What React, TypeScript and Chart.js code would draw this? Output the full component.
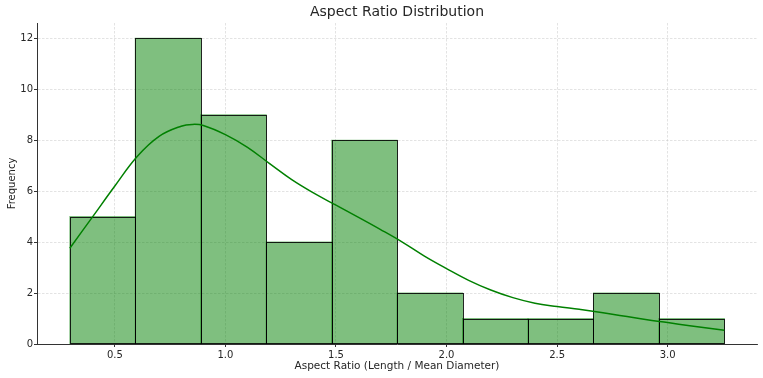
import React, { useEffect, useRef } from "react";
import { Chart, registerables } from "chart.js";

Chart.register(...registerables);

const TITLE = "Aspect Ratio Distribution";
const X_LABEL = "Aspect Ratio (Length / Mean Diameter)";
const Y_LABEL = "Frequency";

const binEdges = [0.2965, 0.5925, 0.8885, 1.1845, 1.4805, 1.7765, 2.0725, 2.3685, 2.6645, 2.9605, 3.2565];
const counts = [5, 12, 9, 4, 8, 2, 1, 1, 2, 1];

const kdeX = [0.2965, 0.40, 0.50, 0.60, 0.70, 0.80, 0.85, 0.90, 1.00, 1.10, 1.20, 1.30, 1.40, 1.50, 1.60, 1.70, 1.80, 1.90, 2.00, 2.10, 2.20, 2.30, 2.40, 2.50, 2.60, 2.70, 2.80, 2.90, 3.00, 3.10, 3.2565];
const kdeY = [3.76, 5.00, 6.20, 7.35, 8.15, 8.55, 8.62, 8.58, 8.22, 7.72, 7.08, 6.45, 5.92, 5.45, 4.98, 4.50, 4.00, 3.45, 2.96, 2.50, 2.12, 1.82, 1.60, 1.47, 1.36, 1.24, 1.10, 0.96, 0.84, 0.72, 0.54];

const xTicks = [0.5, 1.0, 1.5, 2.0, 2.5, 3.0];
const yTicks = [0, 2, 4, 6, 8, 10, 12];

const X_MIN = 0.148;
const X_MAX = 3.404;
const Y_MAX = 12.6;

const FONT = '"DejaVu Sans", sans-serif';
const TEXT = "#262626";
const GRID = "rgba(190,190,190,0.55)";

const titlePlugin = {
  id: "customTitle",
  afterDraw(chart: any) {
    const { ctx, chartArea } = chart;
    ctx.save();
    ctx.font = `14px ${FONT}`;
    ctx.fillStyle = TEXT;
    ctx.textAlign = "center";
    ctx.textBaseline = "middle";
    ctx.fillText(TITLE, (chartArea.left + chartArea.right) / 2, 12);
    ctx.restore();
  },
};

// Draw crisp 1px histogram edges (shared between adjacent bins) from the bar elements
const edgePlugin = {
  id: "histEdges",
  afterDatasetDraw(chart: any, args: any) {
    if (args.index !== 1) return;
    const { ctx } = chart;
    ctx.save();
    ctx.strokeStyle = "rgba(0,0,0,0.85)";
    ctx.lineWidth = 1;
    for (const el of args.meta.data) {
      const { x, y, base, width } = el.getProps(["x", "y", "base", "width"], true);
      const l = Math.round(x - width / 2) + 0.5;
      const r = Math.round(x + width / 2) + 0.5;
      const t = Math.round(y) + 0.5;
      const b = Math.round(base) - 0.5;
      ctx.strokeRect(l, t, r - l, b - t);
    }
    ctx.restore();
  },
};

export default function App() {
  const ref = useRef<HTMLCanvasElement>(null);

  useEffect(() => {
    if (!ref.current) return;
    const barData = counts.map((c, i) => ({ x: (binEdges[i] + binEdges[i + 1]) / 2, y: c }));
    const lineData = kdeX.map((x, i) => ({ x, y: kdeY[i] }));

    const chart = new Chart(ref.current, {
      type: "bar",
      data: {
        datasets: [
          {
            type: "line",
            data: lineData,
            borderColor: "#008000",
            borderWidth: 1.5,
            pointRadius: 0,
            tension: 0.4,
            fill: false,
            order: 0,
          } as any,
          {
            type: "bar",
            data: barData,
            backgroundColor: "rgba(0,128,0,0.5)",
            borderWidth: 0,
            inflateAmount: 0.5,
            barPercentage: 1,
            categoryPercentage: 1,
            order: 1,
          } as any,
        ],
      },
      options: {
        animation: false,
        responsive: false,
        layout: { padding: { top: 23, right: 6, left: 0, bottom: 0 } },
        plugins: {
          legend: { display: false },
          tooltip: { enabled: false },
          title: { display: false },
        },
        scales: {
          x: {
            type: "linear",
            min: X_MIN,
            max: X_MAX,
            offset: false,
            afterBuildTicks: (s: any) => {
              s.ticks = xTicks.map((v) => ({ value: v }));
            },
            afterFit: (s: any) => {
              s.height = 34;
            },
            grid: {
              offset: false,
              color: GRID,
              lineWidth: 0.8,
              drawTicks: true,
              tickLength: 3,
              tickColor: "#333",
              tickWidth: 1,
            },
            border: { display: true, color: "#333", width: 1, dash: [2.5, 1.5] },
            ticks: {
              color: TEXT,
              font: { family: FONT, size: 10 },
              padding: 2,
              maxRotation: 0,
              callback: (v: any) => Number(v).toFixed(1),
            },
            title: {
              display: true,
              text: X_LABEL,
              color: TEXT,
              font: { family: FONT, size: 10.5 },
              padding: { top: 0, bottom: 5 },
            },
          },
          y: {
            min: 0,
            max: Y_MAX,
            afterBuildTicks: (s: any) => {
              s.ticks = yTicks.map((v) => ({ value: v }));
            },
            afterFit: (s: any) => {
              s.width = 37;
            },
            grid: {
              color: GRID,
              lineWidth: 0.8,
              drawTicks: true,
              tickLength: 3,
              tickColor: "#333",
              tickWidth: 1,
            },
            border: { display: true, color: "#333", width: 1, dash: [2.5, 1.5] },
            ticks: {
              color: TEXT,
              font: { family: FONT, size: 10 },
              padding: 1,
              callback: (v: any) => String(v),
            },
            title: {
              display: true,
              text: Y_LABEL,
              color: TEXT,
              font: { family: FONT, size: 10 },
              padding: { top: 6, bottom: 0 },
            },
          },
        },
      },
      plugins: [titlePlugin, edgePlugin],
    });
    return () => chart.destroy();
  }, []);

  return (
    <div style={{ position: "fixed", left: 0, top: 0, width: 763, height: 378, background: "#fff" }}>
      <canvas ref={ref} width={763} height={378} style={{ width: 763, height: 378, display: "block" }} />
    </div>
  );
}
